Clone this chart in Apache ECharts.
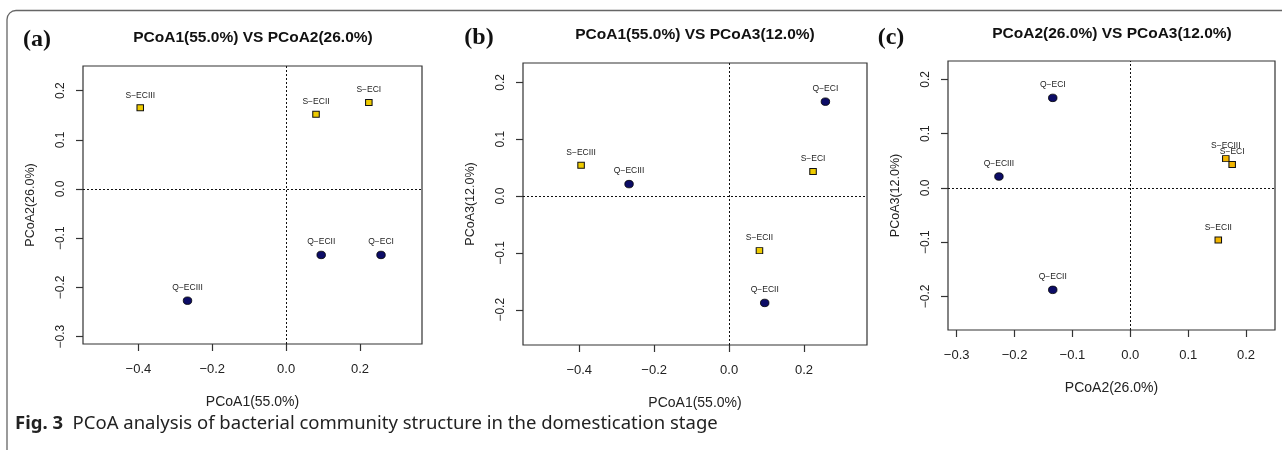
<!DOCTYPE html>
<html>
<head>
<meta charset="utf-8">
<script src="https://cdn.jsdelivr.net/npm/echarts@6/dist/echarts.min.js"></script>
<style>
html,body{margin:0;padding:0;background:#fff;}
#chart{width:1282px;height:450px;}
</style>
</head>
<body>
<div id="chart"></div>
<script>
// ---- data ----
const samplesQ = ['Q-ECI', 'Q-ECII', 'Q-ECIII'];
const samplesS = ['S-ECI', 'S-ECII', 'S-ECIII'];
const pc1Q = [0.257, 0.095, -0.267];
const pc1S = [0.224, 0.081, -0.395];
const pc2Q = [-0.134, -0.134, -0.227];
const pc2S = [0.176, 0.152, 0.165];
const pc3Q = [0.166, -0.188, 0.021];
const pc3S = [0.043, -0.096, 0.054];
const pc1Ticks = [-0.4, -0.2, 0.0, 0.2];
const pc2Ticks = [-0.3, -0.2, -0.1, 0.0, 0.1, 0.2];
const pc3Ticks = [-0.2, -0.1, 0.0, 0.1, 0.2];
const axisNames = ['PCoA1(55.0%)', 'PCoA2(26.0%)', 'PCoA3(12.0%)'];
const panelLetters = ['(a)', '(b)', '(c)'];
const panelTitles = ['PCoA1(55.0%) VS PCoA2(26.0%)', 'PCoA1(55.0%) VS PCoA3(12.0%)', 'PCoA2(26.0%) VS PCoA3(12.0%)'];
const captionBold = 'Fig. 3';
const captionText = 'PCoA analysis of bacterial community structure in the domestication stage';

// ---- layout ----
const pcQ = [pc1Q, pc2Q, pc3Q];
const pcS = [pc1S, pc2S, pc3S];
const pcTicks = [pc1Ticks, pc2Ticks, pc3Ticks];
const pcRange = [[-0.55, 0.368], [-0.315, 0.25], [-0.262, 0.234]];
const panels = [
  {xi: 0, yi: 1, grid: {left: 83, top: 66, width: 339, height: 278}, yellow: '#EECB00', titleX: 253, letterX: 37, titleY: 38, letterY: 40},
  {xi: 0, yi: 2, grid: {left: 523, top: 63, width: 344, height: 282}, yellow: '#EECB00', titleX: 695, letterX: 479, titleY: 35, letterY: 38},
  {xi: 1, yi: 2, grid: {left: 948, top: 61, width: 327, height: 269}, yellow: '#F2B500', titleX: 1112, letterX: 891, titleY: 34, letterY: 38}
];
const fmt = v => (v < 0 ? '\u2212' : '') + Math.abs(v).toFixed(1);
const F = '"Liberation Sans", Arial, sans-serif';
const CF = '"Noto Sans", "Open Sans", sans-serif';

const grids = [], xAxes = [], yAxes = [], series = [], graphics = [];
panels.forEach((p, i) => {
  grids.push(Object.assign({show: true, borderColor: '#333', borderWidth: 1.2, backgroundColor: 'transparent'}, p.grid));
  xAxes.push({
    gridIndex: i, type: 'value', min: pcRange[p.xi][0], max: pcRange[p.xi][1],
    axisLine: {show: false, onZero: false}, splitLine: {show: false},
    axisTick: {show: true, customValues: pcTicks[p.xi], length: 7, lineStyle: {color: '#333', width: 1.2}},
    axisLabel: {customValues: pcTicks[p.xi], formatter: fmt, fontSize: 13, margin: 19, color: '#222', fontFamily: F},
    name: axisNames[p.xi], nameLocation: 'middle', nameGap: 51,
    nameTextStyle: {fontSize: 14, color: '#222', fontFamily: F}
  });
  yAxes.push({
    gridIndex: i, type: 'value', min: pcRange[p.yi][0], max: pcRange[p.yi][1],
    axisLine: {show: false, onZero: false}, splitLine: {show: false},
    axisTick: {show: true, customValues: pcTicks[p.yi], length: 7, lineStyle: {color: '#333', width: 1.2}},
    axisLabel: {customValues: pcTicks[p.yi], formatter: fmt, fontSize: 12, margin: 16, rotate: 90, color: '#222', fontFamily: F},
    name: axisNames[p.yi], nameLocation: 'middle', nameGap: 46,
    nameTextStyle: {fontSize: 12.5, color: '#222', fontFamily: F}
  });
  const lbl = {show: true, position: 'top', distance: 4.5, fontSize: 8.5, color: '#222', fontFamily: F,
    formatter: d => d.name.replace('-', '\u2212')};
  series.push({
    type: 'scatter', xAxisIndex: i, yAxisIndex: i, symbol: 'rect', symbolSize: [6.5, 6],
    itemStyle: {color: p.yellow, borderColor: '#111', borderWidth: 1, opacity: 1},
    label: lbl,
    data: samplesS.map((n, k) => ({name: n, value: [pcS[p.xi][k], pcS[p.yi][k]]})),
    markLine: {silent: true, symbol: ['none', 'none'], label: {show: false},
      lineStyle: {color: '#111', type: [2, 2], width: 1},
      data: [{xAxis: 0}, {yAxis: 0}]},
    z: 3
  });
  series.push({
    type: 'scatter', xAxisIndex: i, yAxisIndex: i, symbol: 'circle', symbolSize: [8.5, 7.5],
    itemStyle: {color: '#0c0c66', borderColor: '#000', borderWidth: 0.8, opacity: 1},
    label: lbl,
    data: samplesQ.map((n, k) => ({name: n, value: [pcQ[p.xi][k], pcQ[p.yi][k]]})),
    z: 3
  });
  graphics.push({type: 'text', x: p.titleX, y: p.titleY, style: {text: panelTitles[i],
    align: 'center', verticalAlign: 'middle', fontSize: 15.5, fontWeight: 'bold', fill: '#111', fontFamily: F}});
  graphics.push({type: 'text', x: p.letterX, y: p.letterY, style: {text: panelLetters[i],
    align: 'center', verticalAlign: 'middle', fontSize: 24, fontWeight: 'bold', fill: '#111', fontFamily: '"Liberation Serif", "Times New Roman", serif'}});
});

graphics.push({type: 'rect', shape: {x: 7, y: 10.5, width: 1300, height: 500, r: [9, 0, 0, 0]},
  style: {fill: 'none', stroke: '#666', lineWidth: 1.3}, silent: true});
graphics.push({type: 'text', x: 15, y: 424, style: {
  text: '{b|' + captionBold + '}  ' + captionText,
  verticalAlign: 'middle', fontSize: 18.5, fill: '#222', fontFamily: CF,
  rich: {b: {fontWeight: 'bold', fontSize: 18.5, fill: '#222', fontFamily: CF}}}});

const chart = echarts.init(document.getElementById('chart'), null, {renderer: 'canvas'});
chart.setOption({
  animation: false,
  backgroundColor: '#fff',
  grid: grids, xAxis: xAxes, yAxis: yAxes, series: series,
  graphic: graphics
});
</script>
</body>
</html>
